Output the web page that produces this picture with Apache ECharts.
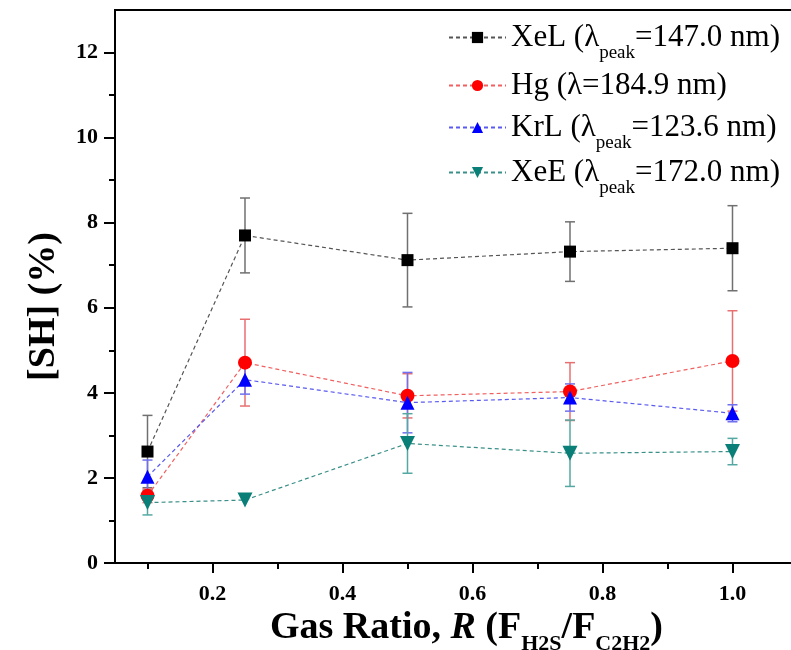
<!DOCTYPE html>
<html>
<head>
<meta charset="utf-8">
<script src="https://cdn.jsdelivr.net/npm/echarts@6/dist/echarts.min.js"></script>
<style>
html,body{margin:0;padding:0;background:#fff;}
#chart{width:791px;height:650px;}
</style>
</head>
<body>
<div id="chart"></div>
<script>
// ---- data ----
const ratios = [0.1, 0.25, 0.5, 0.75, 1.0];
const seriesNames = ['XeL (λ_peak=147.0 nm)', 'Hg (λ=184.9 nm)', 'KrL (λ_peak=123.6 nm)', 'XeE (λ_peak=172.0 nm)'];
const xelValues = [2.62, 7.70, 7.12, 7.32, 7.40];
const xelErrors = [0.85, 0.88, 1.10, 0.70, 1.00];
const hgValues  = [1.58, 4.71, 3.93, 4.03, 4.75];
const hgErrors  = [0.16, 1.02, 0.52, 0.68, 1.18];
const krlValues = [2.03, 4.31, 3.77, 3.89, 3.52];
const krlErrors = [0.39, 0.34, 0.71, 0.32, 0.20];
const xeeValues = [1.42, 1.48, 2.81, 2.58, 2.62];
const xeeErrors = [0.29, 0.00, 0.70, 0.78, 0.31];
const xTickValues = [0.1, 0.2, 0.3, 0.4, 0.5, 0.6, 0.7, 0.8, 0.9, 1.0];
const xLabelValues = [0.2, 0.4, 0.6, 0.8, 1.0];
const yMajorValues = [0, 2, 4, 6, 8, 10, 12];
const yMinorValues = [1, 3, 5, 7, 9, 11];

// ---- styles ----
const FONT = 'Liberation Serif';
const styles = [
  {color: '#000000', line: '#555555', err: '#707070', symbol: 'rect', size: 12, rotate: 0},
  {color: '#ff0000', line: '#f06060', err: '#e87070', symbol: 'circle', size: 14, rotate: 0},
  {color: '#0000ff', line: '#5a5af0', err: '#7070f0', symbol: 'triangle', size: 14, rotate: 0},
  {color: '#0a7f78', line: '#3a9088', err: '#55a8a2', symbol: 'triangle', size: 15, rotate: 180}
];
const allValues = [xelValues, hgValues, krlValues, xeeValues];
const allErrors = [xelErrors, hgErrors, krlErrors, xeeErrors];

const chart = echarts.init(document.getElementById('chart'), null, {renderer: 'canvas'});

const series = [];
allValues.forEach((vals, i) => {
  const st = styles[i];
  series.push({
    type: 'custom',
    name: 'err' + i,
    z: 1,
    silent: true,
    data: ratios.map((x, k) => [x, vals[k], allErrors[i][k]]),
    renderItem: function (params, api) {
      const x = api.value(0), y = api.value(1), e = api.value(2);
      if (!e) return null;
      const top = api.coord([x, y + e]);
      const bot = api.coord([x, y - e]);
      const hw = 5;
      const lineStyle = {stroke: st.err, lineWidth: 1.5};
      return {
        type: 'group',
        children: [
          {type: 'line', shape: {x1: top[0], y1: top[1], x2: bot[0], y2: bot[1]}, style: lineStyle},
          {type: 'line', shape: {x1: top[0] - hw, y1: top[1], x2: top[0] + hw, y2: top[1]}, style: lineStyle},
          {type: 'line', shape: {x1: bot[0] - hw, y1: bot[1], x2: bot[0] + hw, y2: bot[1]}, style: lineStyle}
        ]
      };
    }
  });
});
allValues.forEach((vals, i) => {
  const st = styles[i];
  series.push({
    type: 'line',
    name: seriesNames[i],
    z: 3 + i,
    data: ratios.map((x, k) => [x, vals[k]]),
    symbol: st.symbol,
    symbolSize: st.size,
    symbolRotate: st.rotate,
    itemStyle: {color: st.color},
    lineStyle: {color: st.line, width: 1.2, type: [4, 3]},
    animation: false
  });
});

function richName(name) {
  return '{a|' + name.replace('_peak', '}{s|peak}{a|') + '}';
}
const legendTops = [7, 65, 97, 142];
const legends = seriesNames.map((n, i) => ({
  data: [n],
  left: 443,
  top: legendTops[i],
  itemWidth: 57,
  itemHeight: 14,
  itemGap: 8,
  selectedMode: false,
  formatter: richName,
  textStyle: {
    rich: {
      a: {fontFamily: FONT, fontSize: 31, lineHeight: 31, color: '#000'},
      s: {fontFamily: FONT, fontSize: 19, lineHeight: 19, padding: [32, 0, 0, 0], color: '#000'}
    }
  }
}));

const axisLabelStyle = {fontFamily: FONT, fontWeight: 'bold', fontSize: 22, color: '#000'};

chart.setOption({
  animation: false,
  backgroundColor: '#fff',
  grid: {left: 115, right: -5, top: 10, bottom: 87, show: true, borderColor: '#000', borderWidth: 2, containLabel: false, outerBoundsMode: 'none'},
  legend: legends,
  xAxis: [{
    type: 'value', min: 0.05, max: 1.0977,
    axisLine: {show: true, lineStyle: {color: '#000', width: 2}},
    axisTick: {show: true, length: 10, lineStyle: {color: '#000', width: 2}, customValues: xLabelValues},
    axisLabel: Object.assign({margin: 20, customValues: xLabelValues, formatter: v => v.toFixed(1)}, axisLabelStyle),
    splitLine: {show: false},
    name: '{a|Gas Ratio, }{i|R}{a| (F}{s|H2S}{a|/F}{s|C2H2}{a|)}',
    nameLocation: 'middle',
    nameGap: 46,
    nameMoveOverlap: false,
    nameTextStyle: {
      verticalAlign: 'top',
      padding: [0, 0, 0, 22],
      rich: {
        a: {fontFamily: FONT, fontWeight: 'bold', fontSize: 38, lineHeight: 38, color: '#000'},
        i: {fontFamily: FONT, fontWeight: 'bold', fontStyle: 'italic', fontSize: 38, lineHeight: 38, color: '#000'},
        s: {fontFamily: FONT, fontWeight: 'bold', fontSize: 22, lineHeight: 22, padding: [32, 0, 0, 0], color: '#000'}
      }
    }
  }, {
    type: 'value', min: 0.05, max: 1.0977, position: 'bottom',
    axisLine: {show: false},
    axisTick: {show: true, length: 6, lineStyle: {color: '#000', width: 2}, customValues: xTickValues},
    axisLabel: {show: false},
    splitLine: {show: false}
  }],
  yAxis: [{
    type: 'value', min: 0, max: 13,
    axisLine: {show: true, lineStyle: {color: '#000', width: 2}},
    axisTick: {show: true, length: 11, lineStyle: {color: '#000', width: 2}, customValues: yMajorValues},
    axisLabel: Object.assign({margin: 17, customValues: yMajorValues, formatter: v => String(v)}, axisLabelStyle),
    splitLine: {show: false},
    name: '[SH] (%)',
    nameLocation: 'middle',
    nameGap: 52,
    nameMoveOverlap: false,
    nameTextStyle: {fontFamily: FONT, fontWeight: 'bold', fontSize: 38, color: '#000', padding: [0, 40, 0, 0]}
  }, {
    type: 'value', min: 0, max: 13, position: 'left',
    axisLine: {show: false},
    axisTick: {show: true, length: 6, lineStyle: {color: '#000', width: 2}, customValues: yMinorValues},
    axisLabel: {show: false},
    splitLine: {show: false}
  }],
  series: series
});
</script>
</body>
</html>
